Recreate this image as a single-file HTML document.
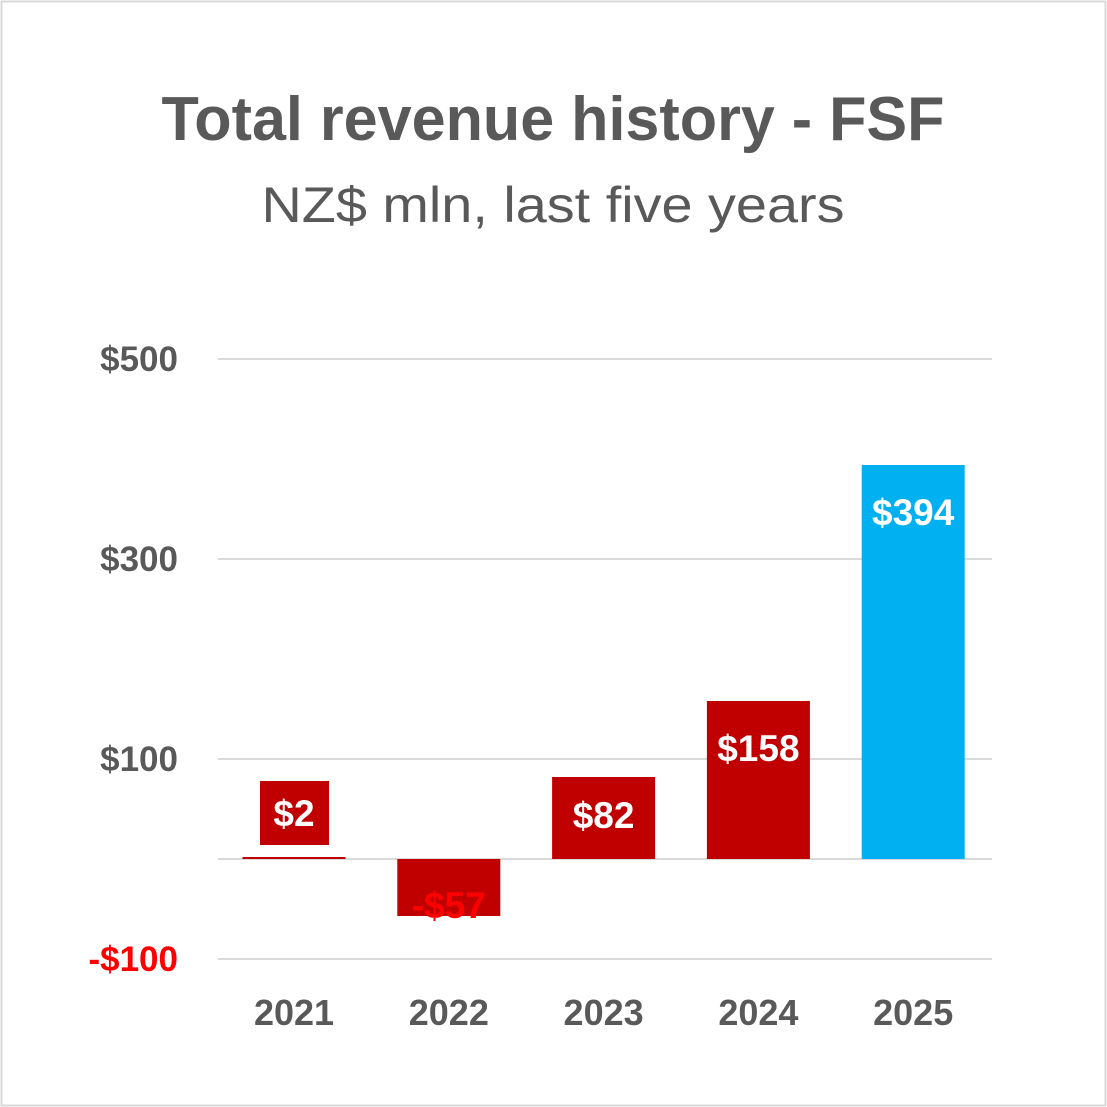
<!DOCTYPE html>
<html><head><meta charset="utf-8"><style>
html,body{margin:0;padding:0;background:#fff;}
svg{display:block;font-family:"Liberation Sans",Arial,sans-serif;}
</style></head><body>
<svg id="chart" width="1107" height="1107" viewBox="0 0 1107 1107">
<rect x="1.5" y="1.5" width="1104" height="1104" fill="#fff" stroke="#d9d9d9" stroke-width="2"/>
<text x="553" y="140" text-anchor="middle" font-size="62" font-weight="bold" fill="#595959" textLength="783" lengthAdjust="spacingAndGlyphs">Total revenue history - FSF</text>
<text x="553" y="222" text-anchor="middle" font-size="50" fill="#595959" textLength="583" lengthAdjust="spacingAndGlyphs">NZ$ mln, last five years</text>
<g id="grid"></g><g id="bars"></g><g id="labels"></g>
</svg>
<script>
const categories = ["2021","2022","2023","2024","2025"];
const values = [2,-57,82,158,394];
const valueLabels = ["$2","-$57","$82","$158","$394"];
const gridValues = [500,300,100,0,-100];
const tickLabels = ["$500","$300","$100","","-$100"];
const colors = ["#c00000","#c00000","#c00000","#c00000","#00b0f0"];
const NS="http://www.w3.org/2000/svg";
const y = v => 859 - v*1.0;
const x = i => 294 + i*154.8;
const bw = 103;
function mk(tag, attrs, parent, txt){const e=document.createElementNS(NS,tag);for(const k in attrs)e.setAttribute(k,attrs[k]);if(txt!==undefined)e.textContent=txt;document.getElementById(parent).appendChild(e);return e;}
gridValues.forEach((v,i)=>{
  const l=mk('line',{x1:218,x2:992,y1:y(v),y2:y(v),stroke:'#d9d9d9','stroke-width':2},'grid');
  
  
  if(tickLabels[i]){
    const t=mk('text',{x:178,y:y(v)+12,'text-anchor':'end','font-size':35,'font-weight':'bold',fill:v<0?'#ff0000':'#595959'},'grid',tickLabels[i]);
    
    
  }
});
categories.forEach((c,i)=>{
  const v=values[i], top=Math.min(y(v),y(0)), h=Math.max(Math.abs(y(v)-y(0)),1.5);
  const r=mk('rect',{x:x(i)-bw/2,y:top,width:bw,height:h,fill:colors[i]},'bars');
  
  
  const yl=mk('text',{x:x(i),y:1025,'text-anchor':'middle','font-size':36,'font-weight':'bold',fill:'#595959'},'labels',c);
  
  
  let ly, fill='#fff';
  if(v<0){ly=y(v)-11; fill='#ff0000';}
  else if(h<60){ly=y(0)-46; mk('rect',{x:x(i)-34,y:ly-32,width:69,height:64,fill:'#c00000'},'labels');}
  else ly=Math.min(top+47, top+h/2-3);
  const t=mk('text',{x:x(i),y:ly+13,'text-anchor':'middle','font-size':37,'font-weight':'bold',fill:fill},'labels',valueLabels[i]);
  
  
});
</script>
</body></html>
